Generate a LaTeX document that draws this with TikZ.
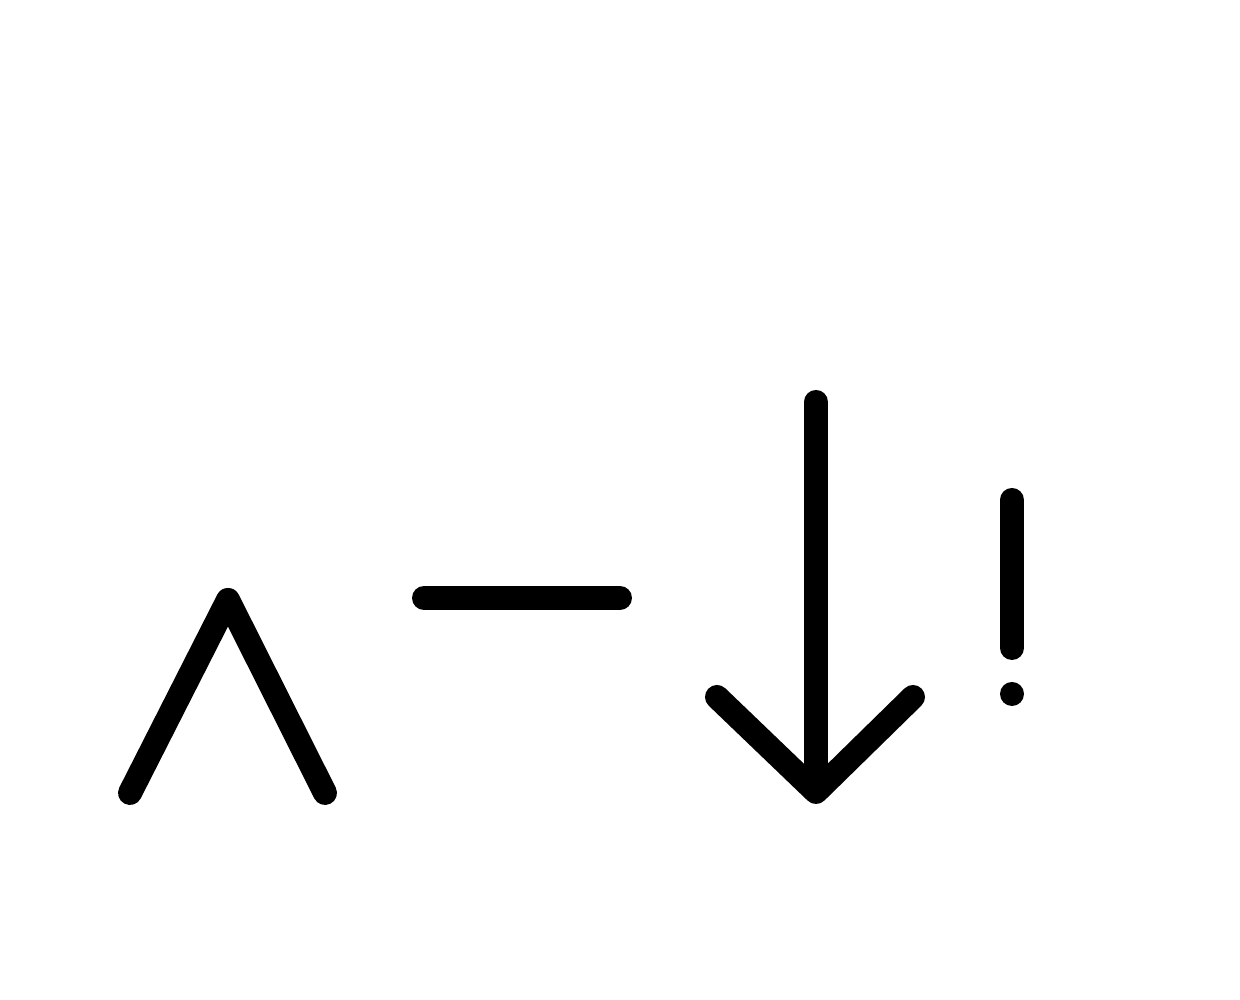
\documentclass[tikz,border=0pt]{standalone}
\usetikzlibrary{positioning}
\tikzset{
  glyph/.style={line width=0.24cm, line cap=round, line join=round, black},
}
\begin{document}
\begin{tikzpicture}
					% fix the page size
					\useasboundingbox (0,0) rectangle (12.4,10);
					% caret
					\draw[glyph] (1.30,2.07) -- (2.28,4.00) -- (3.25,2.07);
					% dash
					\draw[glyph] (4.24,4.02) -- (6.20,4.02);
					% down arrow
					\draw[glyph] (8.16,5.98) -- (8.16,2.10);
					\draw[glyph] (7.17,3.03) -- (8.16,2.08) -- (9.13,3.03);
					% exclamation mark
					\draw[glyph] (10.12,5.00) -- (10.12,3.52);
					\fill[black] (10.12,3.06) circle (0.12);
				\end{tikzpicture}
\end{document}
